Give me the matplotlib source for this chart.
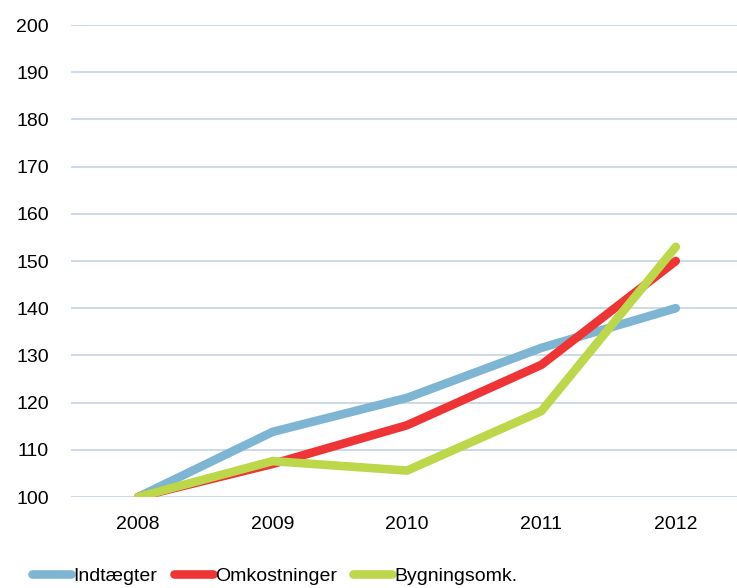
import matplotlib
matplotlib.use("Agg")
import matplotlib.pyplot as plt

years = ["2008", "2009", "2010", "2011", "2012"]
indtaegter = [100, 113.8, 121, 131.6, 140]
omkostninger = [100, 107, 115.2, 128, 150]
bygningsomk = [100, 107.6, 105.6, 118.2, 153]

plt.rcParams['font.family'] = ['Liberation Sans', 'DejaVu Sans']

fig = plt.figure(figsize=(7.37, 5.88), dpi=100)
ax = fig.add_axes([71 / 737, 91 / 588, 672 / 737, 472 / 588])

x = range(len(years))
ax.plot(x, indtaegter, color='#7DB5D3', lw=6.2, solid_capstyle='round', solid_joinstyle='round', label='Indtægter', zorder=3)
ax.plot(x, omkostninger, color='#EE3434', lw=6.2, solid_capstyle='round', solid_joinstyle='round', label='Omkostninger', zorder=4)
ax.plot(x, bygningsomk, color='#BCD74A', lw=6.2, solid_capstyle='round', solid_joinstyle='round', label='Bygningsomk.', zorder=5)

ax.set_xlim(-0.5, 4.5)
ax.set_ylim(100, 200)
ax.set_yticks(range(100, 201, 10))
ax.set_xticks(list(x))
ax.set_xticklabels(years)
ax.grid(axis='y', color='#C5D3E3', lw=1.2)
ax.set_axisbelow(True)
for s in ax.spines.values():
    s.set_visible(False)
ax.tick_params(length=0, labelsize=14, colors='black')
ax.tick_params(axis='y', pad=16)
ax.tick_params(axis='x', pad=14)

leg = fig.legend(loc='center left', bbox_to_anchor=(32 / 737, 1 - 576 / 588), ncol=3, frameon=False,
                 fontsize=14, handlelength=2.0, handletextpad=0.12, columnspacing=0.85,
                 borderaxespad=0, borderpad=0)

fig.savefig('out.png', dpi=100)
